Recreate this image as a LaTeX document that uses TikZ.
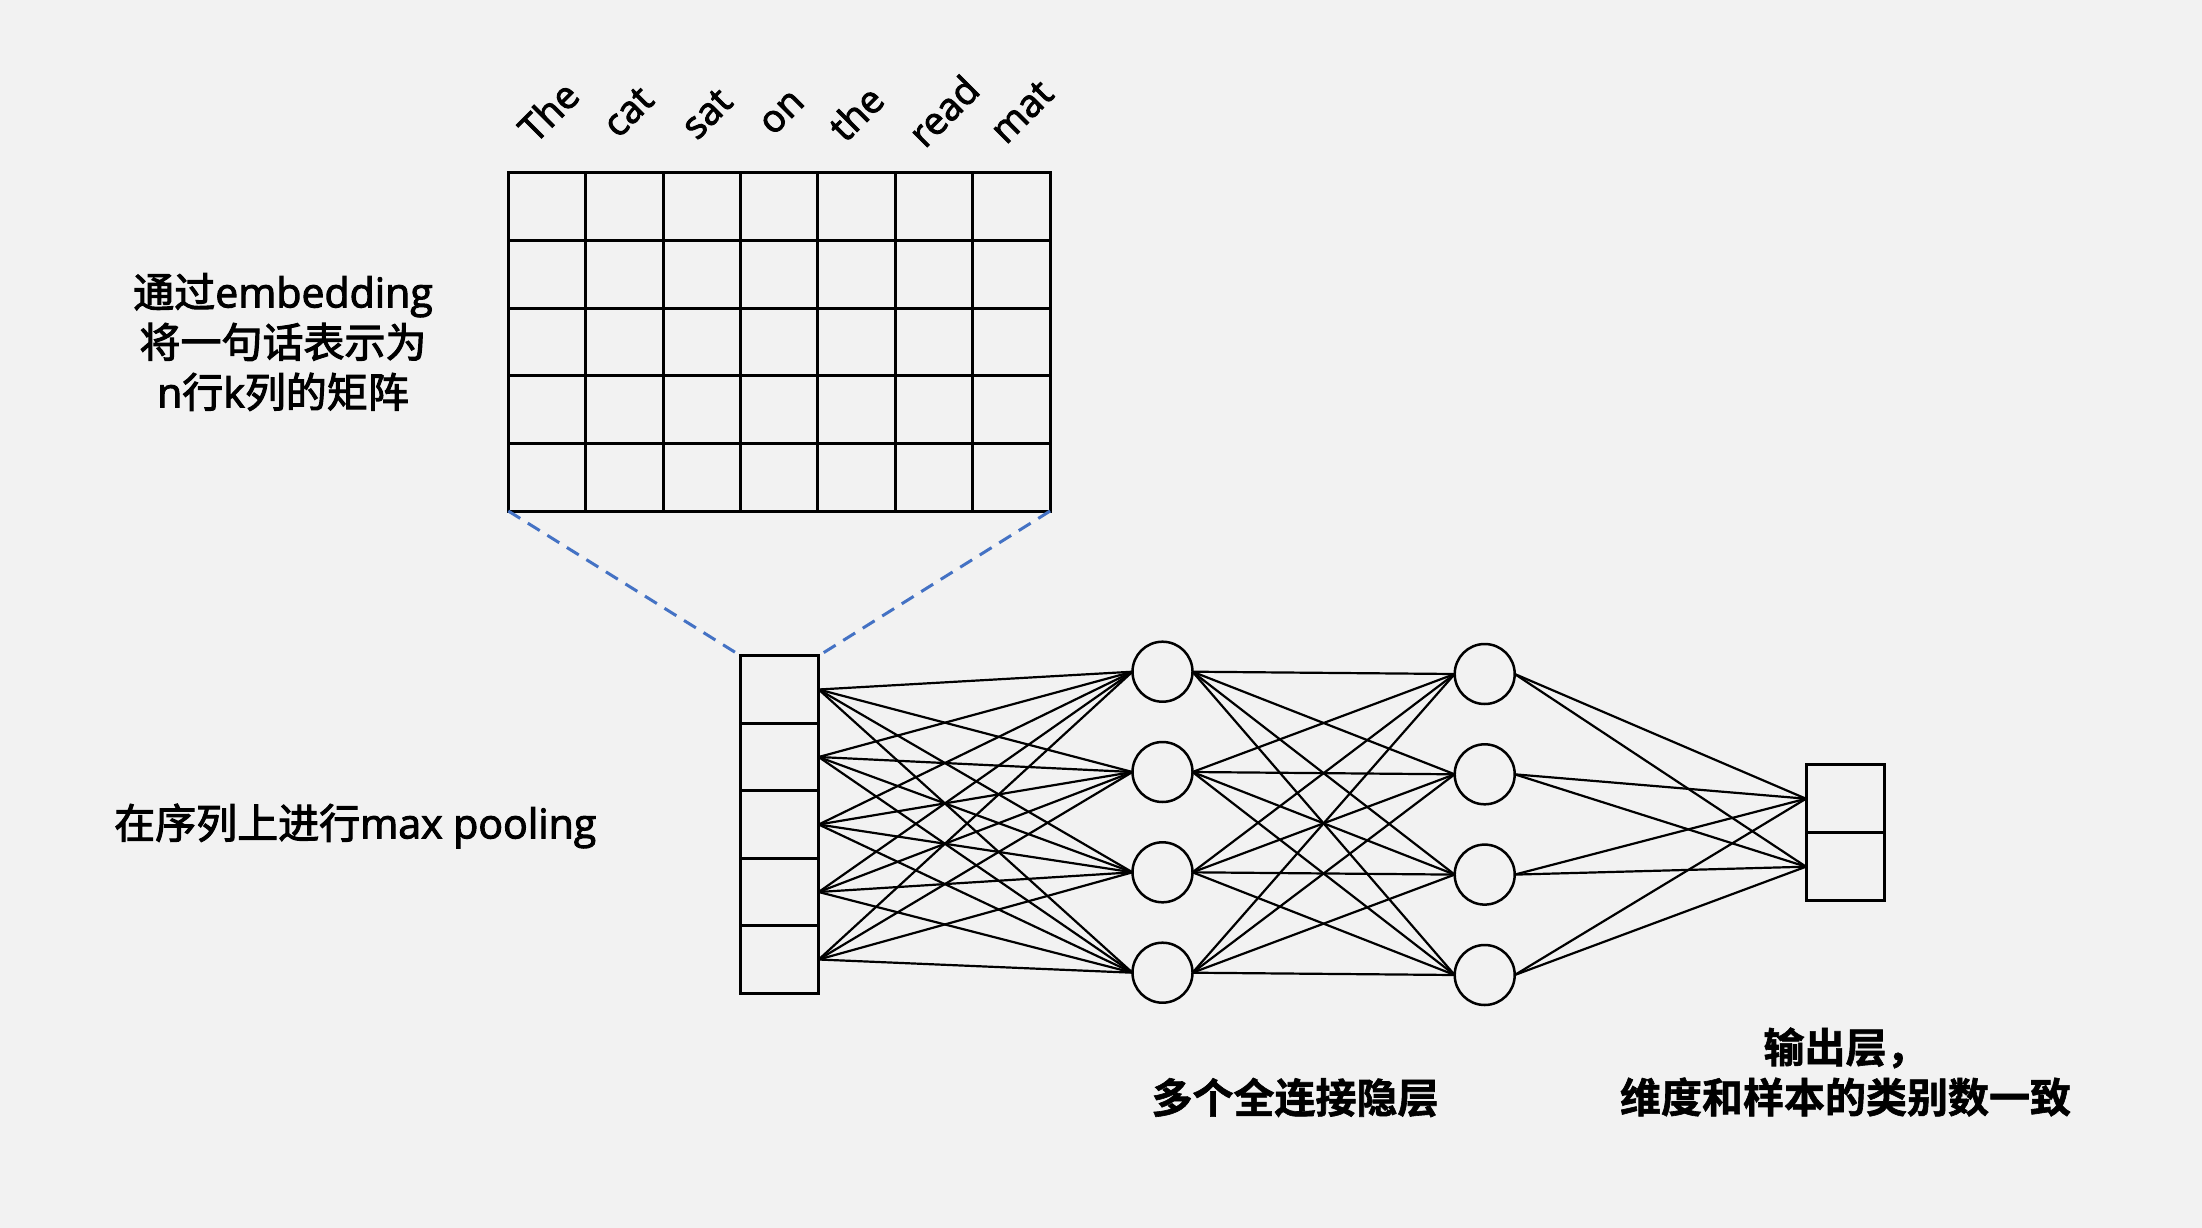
\documentclass[tikz,border=0pt]{standalone}
\usepackage{fontspec}
\setmainfont{Open Sans}[FakeBold=2.5]
\newfontfamily\cjk{Noto Sans CJK SC}[FakeBold=2.5]
\newfontfamily\cjkb{Noto Sans CJK SC Bold}[FakeBold=1.5]
\definecolor{bgcol}{HTML}{F2F2F2}
\definecolor{projblue}{HTML}{4472C4}
\begin{document}
\begin{tikzpicture}[x=1pt,y=-1pt,
  cell/.style={draw, line width=3pt, minimum width=78pt, minimum height=67.5pt, inner sep=0pt, outer sep=0pt},
  neuron/.style={draw, circle, line width=2.5pt, minimum size=60pt, inner sep=0pt, outer sep=0pt},
  link/.style={line width=2.2pt},
  gridline/.style={line width=3pt},
  proj/.style={draw=projblue, dash pattern=on 14pt off 9pt, line width=3pt},
  wordtxt/.style={rotate=45, font=\fontsize{38}{44}\selectfont, inner sep=0pt},
  txt/.style={font=\fontsize{41}{50}\selectfont, align=center, inner sep=0pt}
]
\fill[bgcol] (0,0) rectangle (2202,1228);
\useasboundingbox (0,0) rectangle (2202,1228);

% embedding matrix
\node[draw, line width=3pt, minimum width=541.8pt, minimum height=338.3pt, inner sep=0pt, outer sep=0pt, anchor=north west] (emb) at (508.3,172.7) {};
\foreach \c in {1,...,6} \draw[gridline] (508.3+\c*77.4,172.7) -- (508.3+\c*77.4,511);
\foreach \r in {1,...,4} \draw[gridline] (508.3,172.7+\r*67.66) -- (1050.1,172.7+\r*67.66);

% words
\node[wordtxt] (w1) at (548.3,111.3) {The};
\node[wordtxt] (w2) at (628.3,112) {cat};
\node[wordtxt] (w3) at (707,113.8) {sat};
\node[wordtxt] (w4) at (782.5,113) {on};
\node[wordtxt] (w5) at (855.8,113) {the};
\node[wordtxt] (w6) at (943.3,110.8) {read};
\node[wordtxt] (w7) at (1022,112) {mat};

% pooling column
\foreach \i in {1,...,5} \node[cell] (p\i) at (779.7,622+\i*67.5) {};

% hidden layers
\foreach \j/\y in {1/671.7,2/772,3/872.3,4/972.7} \node[neuron] (h\j) at (1162.5,\y) {};
\foreach \j/\y in {1/674,2/774.3,3/874.6,4/975} \node[neuron] (g\j) at (1484.7,\y) {};

% output
\node[cell] (o1) at (1845,798.7) {};
\node[cell] (o2) at (1845,866.7) {};

% projection lines
\draw[proj] (emb.south west) -- (p1.north west);
\draw[proj] (emb.south east) -- (p1.north east);

% connections
\foreach \i in {1,...,5} \foreach \j in {1,...,4} \draw[link] (p\i.east) -- (h\j.west);
\foreach \i in {1,...,4} \foreach \j in {1,...,4} \draw[link] (h\i.east) -- (g\j.west);
\foreach \i in {1,...,4} \foreach \j in {1,2} \draw[link] (g\i.east) -- (o\j.west);

% texts
\node[txt] (t1) at (283,342) {{\cjk 通过}embedding\\{\cjk 将一句话表示为}\\n{\cjk 行}k{\cjk 列的矩阵}};
\node[txt, anchor=west] (t2) at (114,826) {{\cjk 在序列上进行}max pooling};
\node[txt] (t3) at (1295,1097.5) {\cjkb 多个全连接隐层};
\node[txt] (t4) at (1845.5,1072) {\cjkb 输出层，\\\cjkb 维度和样本的类别数一致};
\end{tikzpicture}
\end{document}
